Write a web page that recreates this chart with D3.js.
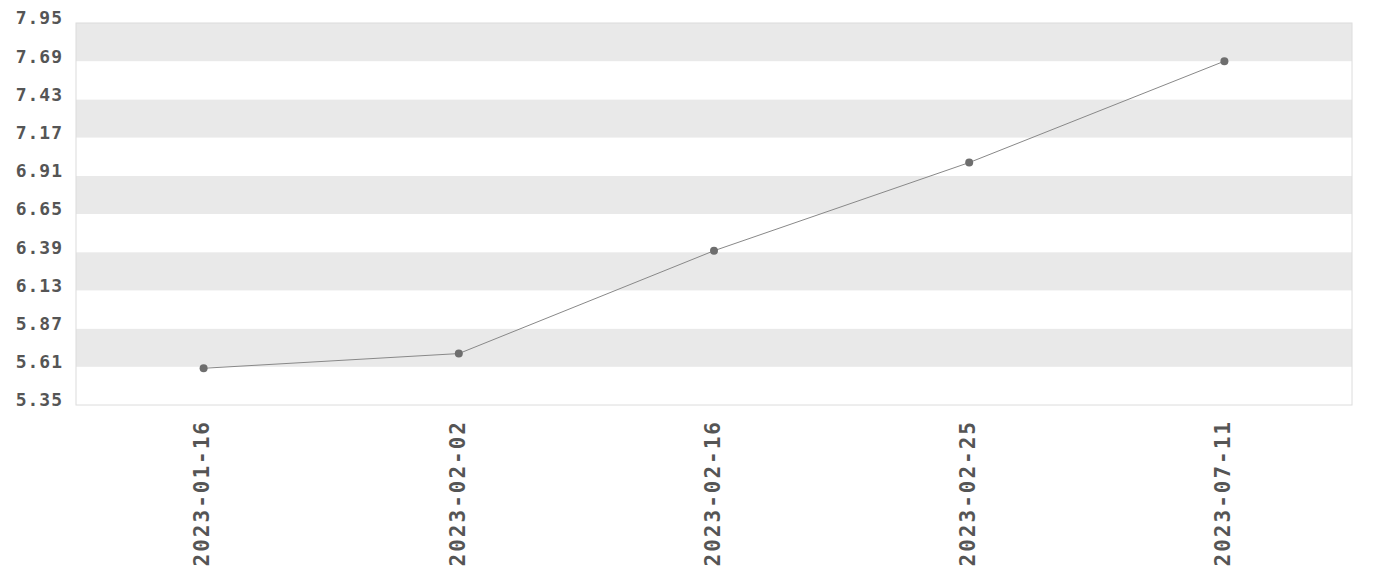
<!DOCTYPE html>
<html><head><meta charset="utf-8">
<script src="https://cdn.jsdelivr.net/npm/d3@7"></script>
<style>body{margin:0;background:#fff}</style>
</head><body><svg id="c" width="1380" height="580"></svg>
<script>
const categories = ["2023-01-16","2023-02-02","2023-02-16","2023-02-25","2023-07-11"];
const values = [5.60, 5.70, 6.40, 7.00, 7.69];
const yTicks = [5.35,5.61,5.87,6.13,6.39,6.65,6.91,7.17,7.43,7.69,7.95];

const svg = d3.select("#c");
const m = {l:76, r:1352, t:23, b:405};
const x = d3.scalePoint().domain(categories).range([m.l, m.r]).padding(0.5);
const y = d3.scaleLinear().domain([5.35, 7.95]).range([m.b, m.t]);

// bands
for (let i = 0; i < yTicks.length - 1; i++) {
  const top = yTicks.length - 2 - i;
  svg.append("rect")
    .attr("x", m.l).attr("width", m.r - m.l)
    .attr("y", y(yTicks[i+1])).attr("height", y(yTicks[i]) - y(yTicks[i+1]))
    .attr("fill", (top % 2 === 0) ? "#e9e9e9" : "#fff");
}
svg.append("rect").attr("x", m.l).attr("y", m.t).attr("width", m.r-m.l).attr("height", m.b-m.t)
  .attr("fill","none").attr("stroke","#dcdcdc").attr("stroke-width",1);

const yAxis = svg.append("g").attr("transform",`translate(${m.l},0)`)
  .call(d3.axisLeft(y).tickValues(yTicks).tickFormat(d3.format(".2f")).tickSize(0).tickPadding(13));
yAxis.select(".domain").remove();
yAxis.selectAll("text").attr("font-family","'DejaVu Sans Mono', monospace").attr("font-weight","bold")
  .attr("font-size","18px").attr("letter-spacing","1px").attr("fill","#555").attr("dy","0.05em");

const xAxis = svg.append("g").attr("transform",`translate(0,${m.b})`)
  .call(d3.axisBottom(x).tickSize(0).tickPadding(0));
xAxis.select(".domain").remove();
xAxis.selectAll("text")
  .attr("font-family","'DejaVu Sans Mono', monospace").attr("font-weight","bold")
  .attr("font-size","21px").attr("letter-spacing","2px").attr("fill","#555")
  .attr("text-anchor","end").attr("dy","0.35em")
  .attr("transform", d => `translate(-2,15) rotate(-90)`).attr("x",0).attr("y",0);

const line = d3.line().x((d,i)=>x(categories[i])).y(d=>y(d));
svg.append("path").datum(values).attr("d", line).attr("fill","none").attr("stroke","#888").attr("stroke-width",1);
svg.selectAll("circle.p").data(values).join("circle").attr("class","p")
  .attr("cx",(d,i)=>x(categories[i])).attr("cy",d=>y(d)).attr("r",4).attr("fill","#6e6e6e");
</script></body></html>
